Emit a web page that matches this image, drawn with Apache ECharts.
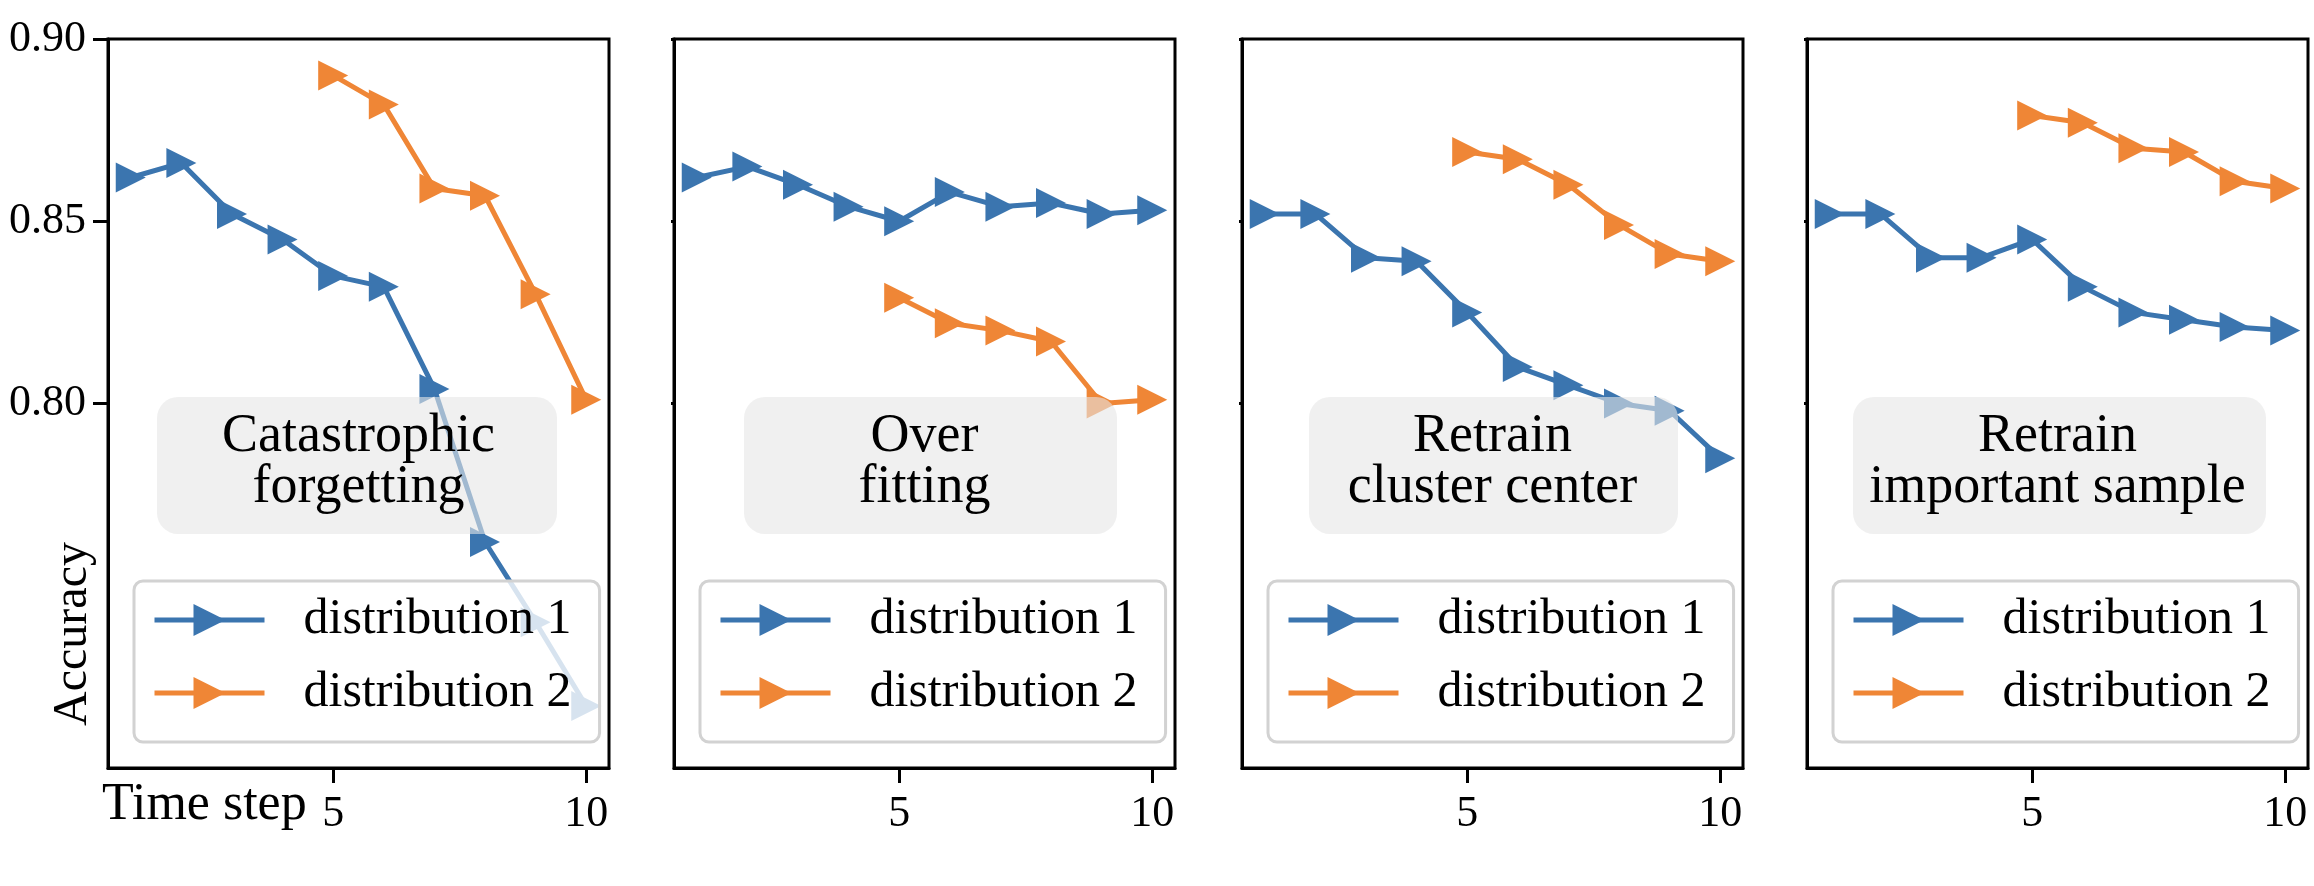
<!DOCTYPE html>
<html><head><meta charset="utf-8">
<script src="https://cdn.jsdelivr.net/npm/echarts@6/dist/echarts.min.js"></script>
<style>html,body{margin:0;padding:0;background:#fff}#c{width:2314px;height:886px}</style>
</head><body><div id="c"></div>
<script>
// ---- data ----
const steps = [1, 2, 3, 4, 5, 6, 7, 8, 9, 10];
const steps2 = [5, 6, 7, 8, 9, 10];
const seriesNames = ['distribution 1', 'distribution 2'];
const panelTitles = ['Catastrophic\nforgetting', 'Over\nfitting', 'Retrain\ncluster center', 'Retrain\nimportant sample'];
const dist1Catastrophic = [0.862, 0.866, 0.852, 0.845, 0.835, 0.832, 0.804, 0.762, 0.740, 0.717];
const dist1Overfit      = [0.862, 0.865, 0.860, 0.854, 0.850, 0.858, 0.854, 0.855, 0.852, 0.853];
const dist1Cluster      = [0.852, 0.852, 0.840, 0.839, 0.825, 0.810, 0.805, 0.800, 0.798, 0.785];
const dist1Important    = [0.852, 0.852, 0.840, 0.840, 0.845, 0.832, 0.825, 0.823, 0.821, 0.820];
const dist2Catastrophic = [0.890, 0.882, 0.859, 0.857, 0.830, 0.801];
const dist2Overfit      = [0.829, 0.822, 0.820, 0.817, 0.800, 0.801];
const dist2Cluster      = [0.869, 0.867, 0.860, 0.849, 0.841, 0.839];
const dist2Important    = [0.879, 0.877, 0.870, 0.869, 0.861, 0.859];
const yTickValues = [0.80, 0.85, 0.90];
const xTickValues = [5, 10];

const dist1 = [dist1Catastrophic, dist1Overfit, dist1Cluster, dist1Important];
const dist2 = [dist2Catastrophic, dist2Overfit, dist2Cluster, dist2Important];

// ---- layout / style ----
const BLUE = '#3b75af', ORANGE = '#ef8636';
const FONT = 'Liberation Serif';
const panelLeft = [108, 674, 1242, 1807];
const panelW = 501, gridTop = 39, gridH = 729;
const boxRel = [[49, 400], [70, 373], [67, 369], [46, 413]];

const grids = [], xAxes = [], yAxes = [], series = [], legends = [], graphics = [];
for (let i = 0; i < 4; i++) {
  grids.push({ left: panelLeft[i], top: gridTop, width: panelW, height: gridH,
    show: true, borderColor: '#000', borderWidth: 3, backgroundColor: 'transparent',
    outerBoundsMode: 'none', containLabel: false });
  xAxes.push({ type: 'value', gridIndex: i, min: 0.55, max: 10.45,
    axisLine: { show: true, lineStyle: { color: '#000', width: 3 } },
    axisTick: { show: true, customValues: xTickValues, length: 15, inside: false, lineStyle: { color: '#000', width: 3 } },
    axisLabel: { show: true, customValues: xTickValues, margin: 24, fontFamily: FONT, fontSize: 44, color: '#000' },
    splitLine: { show: false } });
  yAxes.push({ type: 'value', gridIndex: i, min: 0.70, max: 0.90,
    axisLine: { show: true, lineStyle: { color: '#000', width: 3 } },
    axisTick: { show: true, customValues: yTickValues, length: i === 0 ? 15 : 3, lineStyle: { color: '#000', width: 3 } },
    axisLabel: { show: i === 0, customValues: yTickValues, margin: 22, fontFamily: FONT, fontSize: 44, color: '#000',
      formatter: v => v.toFixed(2) },
    splitLine: { show: false } });
  series.push({ type: 'line', name: seriesNames[0], xAxisIndex: i, yAxisIndex: i,
    data: steps.map((s, k) => [s, dist1[i][k]]),
    symbol: 'triangle', symbolRotate: -90, symbolSize: 30,
    lineStyle: { width: 5, color: BLUE }, itemStyle: { color: BLUE },
    animation: false, silent: true, z: 2 });
  series.push({ type: 'line', name: seriesNames[1], xAxisIndex: i, yAxisIndex: i,
    data: steps2.map((s, k) => [s, dist2[i][k]]),
    symbol: 'triangle', symbolRotate: -90, symbolSize: 30,
    lineStyle: { width: 5, color: ORANGE }, itemStyle: { color: ORANGE },
    animation: false, silent: true, z: 2 });
  legends.push({ data: seriesNames, orient: 'vertical', left: panelLeft[i] + 26, top: 581,
    itemWidth: 110, itemHeight: 40, itemGap: 23, padding: [14, 28, 24, 18],
    backgroundColor: 'rgba(255,255,255,0.8)', borderColor: '#d2d2d2', borderWidth: 3, borderRadius: 9,
    symbolRotate: 'inherit', selectedMode: false,
    lineStyle: { width: 5 },
    textStyle: { fontFamily: FONT, fontSize: 50, color: '#000', lineHeight: 50, padding: [0, 0, 0, 34] } });
  graphics.push({ type: 'rect', z: 10, silent: true,
    shape: { x: panelLeft[i] + boxRel[i][0], y: 397, width: boxRel[i][1], height: 137, r: 21 },
    style: { fill: 'rgba(230,230,230,0.6)' } });
  graphics.push({ type: 'text', z: 11, silent: true, x: panelLeft[i] + panelW / 2, y: 462,
    style: { text: panelTitles[i], fontFamily: FONT, fontSize: 54, lineHeight: 51, fill: '#000',
      align: 'center', verticalAlign: 'middle' } });
}
graphics.push({ type: 'text', z: 11, silent: true, x: 102, y: 805,
  style: { text: 'Time step', fontFamily: FONT, fontSize: 52, fill: '#000', align: 'left', verticalAlign: 'middle' } });
graphics.push({ type: 'text', z: 11, silent: true, x: 73, y: 634, rotation: Math.PI / 2,
  style: { text: 'Accuracy', fontFamily: FONT, fontSize: 48, fill: '#000', align: 'center', verticalAlign: 'middle' } });

const chart = echarts.init(document.getElementById('c'), null, { renderer: 'canvas' });
chart.setOption({
  animation: false,
  backgroundColor: '#fff',
  grid: grids, xAxis: xAxes, yAxis: yAxes, series: series, legend: legends,
  graphic: { elements: graphics }
});
</script></body></html>
